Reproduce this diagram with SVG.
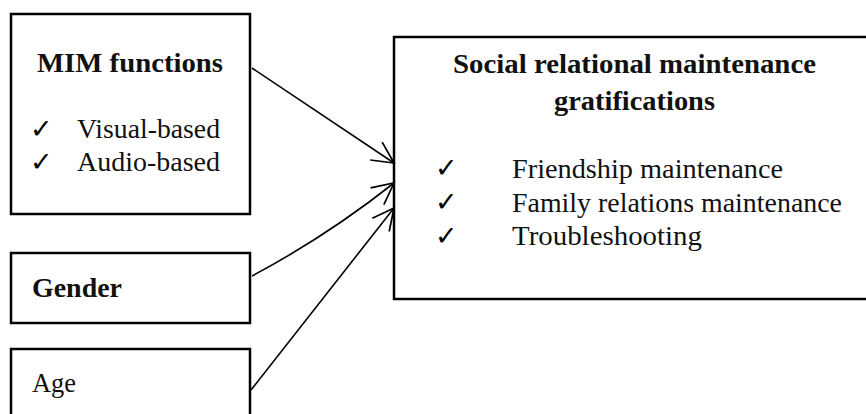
<svg xmlns="http://www.w3.org/2000/svg" width="866" height="414" viewBox="0 0 866 414">
<style>
.box{fill:#fff;stroke:#000;stroke-width:2.5}
.t{font-family:"Liberation Serif","Times New Roman",serif;font-size:27px;fill:#111}
.b{font-weight:bold}
.ck{font-family:"DejaVu Sans",sans-serif;font-size:27px;fill:#000}
.c{fill:none;stroke:#000;stroke-width:1.6}
</style>
<defs>
<marker id="arr" markerUnits="userSpaceOnUse" markerWidth="30" markerHeight="30" viewBox="-24 -14 28 28" refX="0" refY="0" orient="auto">
<path d="M-20,-10 L0,0 L-20,10" fill="none" stroke="#000" stroke-width="1.6"/>
</marker>
</defs>
<rect width="866" height="414" fill="#fff"/>
<g id="mim">
<rect class="box" x="11" y="14" width="239" height="200"/>
<text class="t b" x="37" y="72" textLength="186" lengthAdjust="spacingAndGlyphs">MIM functions</text>
<text class="ck" x="30" y="138">✓</text>
<text class="t" x="77" y="138" textLength="143" lengthAdjust="spacingAndGlyphs">Visual-based</text>
<text class="ck" x="30" y="171">✓</text>
<text class="t" x="77" y="171" textLength="143" lengthAdjust="spacingAndGlyphs">Audio-based</text>
</g>
<g id="gender">
<rect class="box" x="11" y="253" width="239" height="70"/>
<text class="t b" x="32" y="297" textLength="90" lengthAdjust="spacingAndGlyphs">Gender</text>
</g>
<g id="age">
<rect class="box" x="11" y="349" width="239" height="80"/>
<text class="t" x="32" y="392" textLength="44" lengthAdjust="spacingAndGlyphs">Age</text>
</g>
<g id="outcome">
<rect class="box" x="394" y="37" width="490" height="262"/>
<text class="t b" x="453" y="73" textLength="363" lengthAdjust="spacingAndGlyphs">Social relational maintenance</text>
<text class="t b" x="554" y="110" textLength="161" lengthAdjust="spacingAndGlyphs">gratifications</text>
<text class="ck" x="435" y="177">✓</text>
<text class="t" x="512" y="178" textLength="271" lengthAdjust="spacingAndGlyphs">Friendship maintenance</text>
<text class="ck" x="435" y="211">✓</text>
<text class="t" x="512" y="212" textLength="330" lengthAdjust="spacingAndGlyphs">Family relations maintenance</text>
<text class="ck" x="435" y="245">✓</text>
<text class="t" x="512" y="245" textLength="190" lengthAdjust="spacingAndGlyphs">Troubleshooting</text>
</g>
<g id="connectors">
<path class="c" d="M252,68 L394,163" marker-end="url(#arr)"/>
<path class="c" d="M252,276 Q327,236 394,183" marker-end="url(#arr)"/>
<path class="c" d="M251,390 L394,208" marker-end="url(#arr)"/>
</g>
</svg>
